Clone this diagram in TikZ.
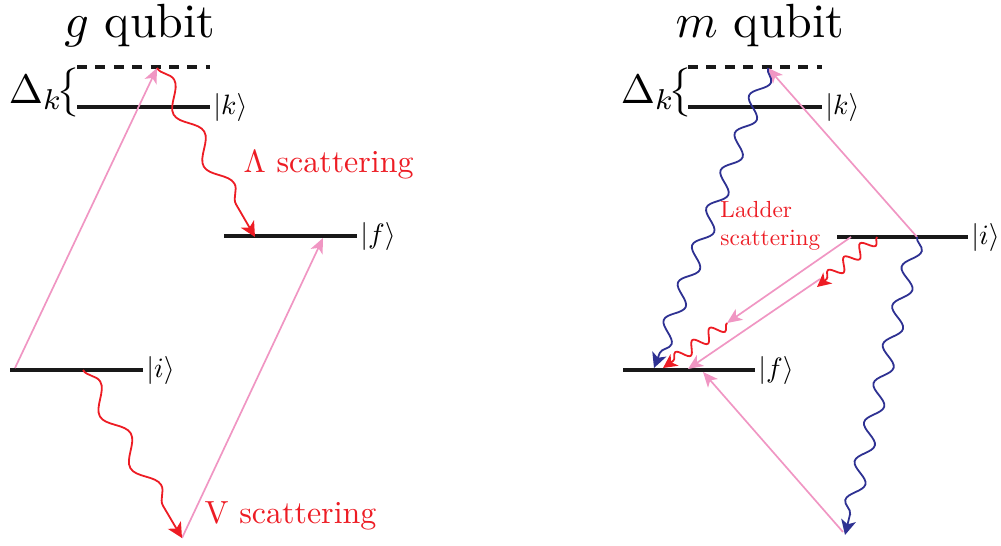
\documentclass[tikz,border=0pt]{standalone}
\usetikzlibrary{arrows.meta,decorations.pathmorphing}
\definecolor{pk}{RGB}{240,150,195}
\definecolor{rd}{RGB}{237,28,36}
\definecolor{bl}{RGB}{46,49,146}
\begin{document}
\begin{tikzpicture}[x=1pt,y=-1pt,
  level/.style={line width=4pt,black!90},
  dashlevel/.style={line width=4pt,black!90,dash pattern=on 10pt off 8.4pt},
  pinkarrow/.style={pk,line width=1.7pt,-{Stealth[length=15pt,width=13pt,inset=4pt]}},
  redwave/.style={rd,line width=1.8pt,decorate,
    decoration={snake,amplitude=9pt,segment length=60pt,post length=16pt},
    -{Stealth[length=15pt,width=15pt,inset=4pt]}},
  bluewave/.style={bl,line width=1.8pt,decorate,
    decoration={snake,amplitude=8pt,segment length=40pt,post length=14pt},
    -{Stealth[length=15pt,width=15pt,inset=4pt]}},
  smallwave/.style={rd,line width=1.8pt,decorate,
    decoration={snake,amplitude=6pt,segment length=21pt,post length=8pt},
    -{Stealth[length=14pt,width=14pt,inset=4pt]}},
  ket/.style={anchor=west,inner sep=1pt,scale=2.8},
  title/.style={anchor=base,inner sep=0pt,scale=4.8},
  dlabel/.style={anchor=base west,inner sep=0pt,scale=4.1},
  redlabel/.style={anchor=base west,inner sep=0pt,text=rd,scale=3.2}
]
\useasboundingbox (0,0) rectangle (1001,546);
% ---------- left panel (g qubit)
\node[title] (tg) at (140,37) {$g$ qubit};
\coordinate (dL1) at (77,67);  \coordinate (dL2) at (210,67);
\coordinate (kL1) at (77,107); \coordinate (kL2) at (210,107);
\coordinate (fL1) at (224,236); \coordinate (fL2) at (357,236);
\coordinate (iL1) at (10,370); \coordinate (iL2) at (143,370);
\draw[dashlevel] (dL1) -- (dL2);
\draw[level] (kL1) -- (kL2);
\draw[level] (fL1) -- (fL2);
\draw[level] (iL1) -- (iL2);
\node[dlabel] (DL) at (8,103) {$\Delta_k\!\big\{$};
\node[ket] (kketL) at (kL2) {$|k\rangle$};
\node[ket] (fketL) at (fL2) {$|f\rangle$};
\node[ket] (iketL) at (iL2) {$|i\rangle$};
\coordinate (pL1s) at (15,368); \coordinate (vL1) at (157,68);
\coordinate (fLa) at (255,237);
\coordinate (iLa) at (83,370); \coordinate (vL2) at (182,538);
\coordinate (fLb) at (323,238);
\draw[pinkarrow] (pL1s) -- (vL1);
\draw[pinkarrow] (vL2) -- (fLb);
\draw[redwave] (vL1) -- (fLa);
\draw[redwave] (iLa) -- (vL2);
\node[redlabel] (lam) at (243,172) {$\Lambda$ scattering};
\node[redlabel] (vsc) at (204,523) {V scattering};
% ---------- right panel (m qubit)
\node[title] (tm) at (760,37) {$m$ qubit};
\coordinate (dR1) at (688,67);  \coordinate (dR2) at (822,67);
\coordinate (kR1) at (688,107); \coordinate (kR2) at (822,107);
\coordinate (iR1) at (837,237); \coordinate (iR2) at (968,237);
\coordinate (fR1) at (623,370); \coordinate (fR2) at (755,370);
\draw[dashlevel] (dR1) -- (dR2);
\draw[level] (kR1) -- (kR2);
\draw[level] (iR1) -- (iR2);
\draw[level] (fR1) -- (fR2);
\node[dlabel] (DR) at (620,103) {$\Delta_k\!\big\{$};
\node[ket] (kketR) at (kR2) {$|k\rangle$};
\node[ket] (iketR) at (iR2) {$|i\rangle$};
\node[ket] (fketR) at (fR2) {$|f\rangle$};
\coordinate (iRa) at (917,237); \coordinate (vR1) at (768,68);
\coordinate (fRa) at (654,368);
\coordinate (vR2) at (845,535); \coordinate (vR2p) at (843,532);
\coordinate (fRb) at (703,372);
\coordinate (iRb) at (851,237); \coordinate (vR3) at (727,323);
\coordinate (iRc) at (877,237); \coordinate (vR4) at (817,287);
\coordinate (vR4p) at (820,279);
\coordinate (fRc) at (688,369); \coordinate (fRd) at (663,368);
\draw[pinkarrow] (iRa) -- (vR1);
\draw[pinkarrow] (vR2p) -- (fRb);
\draw[pinkarrow] (iRb) -- (vR3);
\draw[pinkarrow] (vR4p) -- (fRc);
\draw[bluewave] (vR1) -- (fRa);
\draw[bluewave] (iRa) -- (vR2);
\draw[smallwave] (iRc) -- (vR4);
\draw[smallwave] (vR3) -- (fRd);
\node[anchor=north west,inner sep=0pt,align=left,text=rd,scale=2.33] (lad) at (720,201) {Ladder\\scattering};
\end{tikzpicture}
\end{document}
